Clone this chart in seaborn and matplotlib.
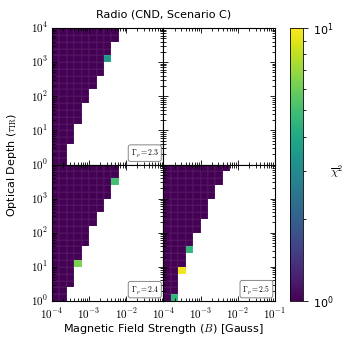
import numpy as np
import pandas as pd
import matplotlib
matplotlib.use("Agg")
import matplotlib.pyplot as plt
from matplotlib.colors import LogNorm
from matplotlib.ticker import NullFormatter
import seaborn as sns

plt.rcParams['mathtext.fontset'] = 'cm'

# grid: B bins (0.2 dex) from 1e-4 to 1e-1, tau bins (0.2 dex) from 1e0 to 1e4
b_edges = np.logspace(-4, -1, 16)
tau_edges = np.logspace(0, 4, 21)

# filled cells per tau row (bottom to top), value ~1 unless listed as a hot cell
fill_23 = [2, 2, 2, 3, 3, 3, 4, 4, 4, 5, 5, 6, 6, 7, 7, 8, 8, 8, 9, 9]
hot_23 = [(15, 7, 3.4)]
fill_24 = [2, 2, 3, 3, 3, 4, 4, 4, 5, 5, 5, 6, 6, 7, 7, 8, 8, 9, 9, 9]
hot_24 = [(5, 3, 6.3), (17, 8, 5.0)]
fill_25 = [2, 2, 2, 2, 3, 3, 3, 4, 4, 4, 5, 5, 6, 6, 6, 7, 7, 8, 8, 9]
hot_25 = [(0, 1, 4.5), (4, 2, 9.5), (7, 3, 4.5)]
fill_empty = [0] * 20

panels = [(fill_23, hot_23, r'$\Gamma_p = 2.3$'),
          (fill_empty, [], None),
          (fill_24, hot_24, r'$\Gamma_p = 2.4$'),
          (fill_25, hot_25, r'$\Gamma_p = 2.5$')]

x_major = ['$10^{-4}$', '$10^{-3}$', '$10^{-2}$', '$10^{-1}$']
y_major = ['$10^{0}$', '$10^{1}$', '$10^{2}$', '$10^{3}$', '$10^{4}$']


def make_grid(fill, hot):
    z = np.full((20, 15), np.nan)
    for j, n in enumerate(fill):
        z[j, :n] = 1.0
    for j, i, v in hot:
        z[j, i] = v
    b_c = np.sqrt(b_edges[1:] * b_edges[:-1])
    t_c = np.sqrt(tau_edges[1:] * tau_edges[:-1])
    return pd.DataFrame(z, index=t_c, columns=b_c)


fig, axes = plt.subplots(2, 2, figsize=(3.53, 3.46), dpi=100)
fig.subplots_adjust(left=0.147, right=0.779, top=0.919, bottom=0.130,
                    wspace=0, hspace=0)

norm = LogNorm(vmin=1, vmax=10)
minor_x = [5 * (np.log10(k) + d) for d in range(3) for k in range(2, 10)]
minor_y = [5 * (np.log10(k) + d) for d in range(4) for k in range(2, 10)]

for idx, (ax, (fill, hot, lab)) in enumerate(zip(axes.flat, panels)):
    df = make_grid(fill, hot)
    sns.heatmap(df, ax=ax, cmap='viridis', norm=norm, cbar=False,
                linewidths=0.25, linecolor=(1, 1, 1, 0.035))
    ax.set_xlim(0, 15)
    ax.set_ylim(0, 20)
    for s in ax.spines.values():
        s.set_visible(True)
        s.set_linewidth(0.8)
    ax.set_xticks([0, 5, 10, 15])
    ax.set_yticks([0, 5, 10, 15, 20])
    ax.set_xticks(minor_x, minor=True)
    ax.set_yticks(minor_y, minor=True)
    row, col = divmod(idx, 2)
    if row == 1:
        xl = list(x_major)
        if col == 0:
            xl[-1] = ''
        ax.set_xticklabels(xl, rotation=0)
    else:
        ax.set_xticklabels([])
    if col == 0:
        yl = list(y_major)
        if row == 1:
            yl[-1] = ''
        ax.set_yticklabels(yl, rotation=0)
    else:
        ax.set_yticklabels([])
    ax.set_xlabel('')
    ax.set_ylabel('')
    ax.tick_params(which='both', direction='in', top=True, right=True,
                   labelsize=8, width=0.6)
    ax.tick_params(axis='x', pad=4)
    ax.tick_params(axis='y', pad=2.5)
    ax.tick_params(which='major', length=3.5)
    ax.tick_params(which='minor', length=2)
    if lab:
        ax.text(0.96, 0.04, lab, transform=ax.transAxes, ha='right', va='bottom',
                fontsize=5.5,
                bbox=dict(boxstyle='round,pad=0.3', fc='white', ec='0.45', lw=0.6))

cax = fig.add_axes([0.822, 0.130, 0.037, 0.789])
cb = fig.colorbar(axes[1, 0].collections[0], cax=cax)
cb.outline.set_linewidth(0.6)
cax.yaxis.set_minor_formatter(NullFormatter())
cax.tick_params(which='both', labelsize=8, width=0.6)
fig.text(0.955, 0.503, r'$\overline{\chi}^2$', ha='center', va='center',
         fontsize=8.5)

fig.text(0.463, 0.958, 'Radio (CND, Scenario C)', ha='center', va='center',
         fontsize=8)
fig.text(0.463, 0.049, r'Magnetic Field Strength ($B$) [Gauss]', ha='center',
         va='center', fontsize=8)
fig.text(0.035, 0.524, r'Optical Depth ($\tau_{\rm IR}$)', ha='center',
         va='center', rotation=90, fontsize=8)

fig.savefig('out.png', dpi=100)
